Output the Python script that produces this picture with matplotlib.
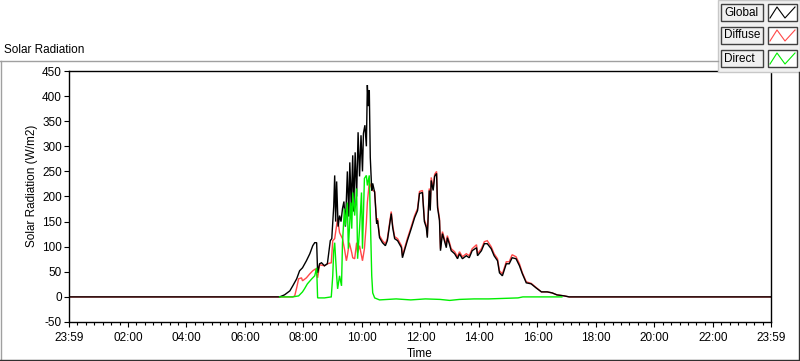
import matplotlib
matplotlib.use("Agg")
import matplotlib.pyplot as plt
import numpy as np
from matplotlib.patches import Rectangle
from matplotlib.lines import Line2D

plt.rcParams['font.family'] = ['Liberation Sans', 'DejaVu Sans']
plt.rcParams['font.size'] = 8.5
plt.rcParams['axes.unicode_minus'] = False

# Data (time of day, W/m2)
global_t = ["00:00", "07:11", "07:21", "07:32", "07:38", "07:46", "07:52", "07:58", "08:06", "08:13",
            "08:19", "08:23", "08:27", "08:29", "08:33", "08:37", "08:43", "08:49", "08:55", "08:58",
            "09:02", "09:04", "09:06", "09:08", "09:11", "09:14", "09:17", "09:20", "09:23", "09:26",
            "09:30", "09:33", "09:35", "09:38", "09:41", "09:43", "09:46", "09:49", "09:52", "09:55",
            "09:58", "10:01", "10:03", "10:06", "10:09", "10:11", "10:13", "10:15", "10:17", "10:20",
            "10:22", "10:26", "10:30", "10:32", "10:36", "10:42", "10:48", "10:52", "11:00", "11:03",
            "11:07", "11:13", "11:21", "11:23", "11:27", "11:33", "11:41", "11:48", "11:54", "11:58",
            "12:04", "12:08", "12:12", "12:14", "12:18", "12:20", "12:22", "12:26", "12:29", "12:33",
            "12:35", "12:39", "12:41", "12:45", "12:49", "12:53", "12:55", "12:59", "13:03", "13:10",
            "13:16", "13:20", "13:26", "13:34", "13:40", "13:46", "13:55", "13:57", "14:05", "14:11",
            "14:17", "14:25", "14:31", "14:38", "14:42", "14:48", "14:56", "15:02", "15:08", "15:16",
            "15:23", "15:29", "15:37", "15:47", "15:57", "16:08", "16:20", "16:30", "16:40", "16:55",
            "17:05", "23:59"]
global_v = [0, 0, 4, 12, 22, 36, 52, 58, 72, 86,
            102, 108, 108, 48, 66, 68, 62, 66, 112, 116,
            180, 242, 150, 230, 140, 162, 150, 176, 190, 140,
            250, 160, 268, 180, 282, 170, 288, 200, 328, 240,
            322, 250, 326, 342, 300, 422, 380, 412, 278, 212,
            226, 208, 146, 152, 118, 108, 102, 112, 166, 138,
            116, 112, 98, 78, 92, 112, 136, 158, 172, 206,
            208, 150, 138, 118, 212, 172, 232, 212, 240, 246,
            178, 152, 92, 126, 112, 98, 118, 106, 92, 86,
            76, 86, 76, 82, 78, 92, 98, 82, 92, 106,
            106, 96, 82, 72, 48, 42, 66, 66, 78, 76,
            62, 46, 28, 26, 18, 10, 10, 8, 4, 2,
            0, 0]

diffuse_t = ["00:00", "07:38", "07:42", "07:46", "07:50", "07:56", "07:58", "08:06", "08:13", "08:19",
             "08:25", "08:27", "08:29", "08:33", "08:43", "08:49", "08:57", "09:00", "09:04", "09:10",
             "09:14", "09:20", "09:24", "09:28", "09:30", "09:34", "09:39", "09:41", "09:45", "09:49",
             "09:51", "09:55", "09:59", "10:01", "10:05", "10:09", "10:11", "10:15", "10:20", "10:22",
             "10:26", "10:30", "10:32", "10:36", "10:42", "10:48", "10:52", "11:00", "11:03", "11:07",
             "11:13", "11:21", "11:23", "11:27", "11:33", "11:41", "11:48", "11:54", "11:58", "12:04",
             "12:08", "12:12", "12:14", "12:18", "12:20", "12:22", "12:26", "12:29", "12:33", "12:35",
             "12:39", "12:41", "12:45", "12:49", "12:53", "12:55", "12:59", "13:03", "13:10", "13:16",
             "13:20", "13:26", "13:34", "13:40", "13:46", "13:55", "13:57", "14:05", "14:11", "14:17",
             "14:25", "14:31", "14:38", "14:42", "14:48", "14:56", "15:02", "15:08", "15:16", "15:23",
             "15:29", "15:37", "15:47", "15:57", "16:08", "16:20", "16:30", "16:40", "16:55", "17:05",
             "23:59"]
diffuse_v = [0, 0, 2, 18, 36, 38, 32, 38, 46, 52,
             56, 46, 38, 64, 62, 66, 68, 112, 116, 156,
             128, 116, 96, 72, 82, 108, 88, 78, 76, 108,
             88, 102, 82, 72, 96, 148, 188, 228, 216, 212,
             210, 150, 156, 122, 112, 106, 116, 170, 142, 120,
             116, 102, 82, 96, 116, 140, 162, 176, 210, 212,
             154, 142, 122, 216, 176, 238, 216, 244, 250, 182,
             156, 96, 130, 116, 102, 122, 110, 96, 90, 80,
             90, 80, 86, 82, 96, 104, 86, 96, 110, 112,
             100, 86, 76, 52, 46, 70, 70, 84, 80, 66,
             48, 30, 27, 19, 10, 10, 8, 4, 2, 0,
             0]

# direct only visible between sunrise and sunset (zero line elsewhere is the black one)
direct_t = ["07:11", "07:38", "07:50", "07:58", "08:02", "08:08", "08:17", "08:23", "08:27", "08:29",
            "08:33", "08:43", "08:57", "09:00", "09:02", "09:04", "09:08", "09:10", "09:14", "09:18",
            "09:20", "09:24", "09:26", "09:30", "09:32", "09:37", "09:39", "09:41", "09:45", "09:49",
            "09:51", "09:55", "09:59", "10:01", "10:05", "10:09", "10:11", "10:15", "10:20", "10:22",
            "10:26", "10:36", "11:10", "11:40", "12:10", "12:40", "13:00", "13:20", "13:50", "14:20",
            "14:50", "15:20", "15:30", "16:00", "16:50"]
direct_v = [0, 0, 2, 10, 16, 26, 36, 42, 58, -2,
            -2, -2, 0, 42, 92, 108, 42, 16, 42, 22,
            108, 176, 142, 188, 96, 188, 136, 208, 162, 216,
            76, 136, 208, 96, 236, 242, 222, 242, 42, 8,
            -2, -6, -4, -6, -4, -5, -7, -5, -4, -4,
            -3, -2, 0, 0, 0]

series_names = ["Global", "Diffuse", "Direct"]
series_colors = ["#000000", "#ff4848", "#00ee00"]

tick_pos = ["-00:01", "02:00", "04:00", "06:00", "08:00", "10:00", "12:00",
            "14:00", "16:00", "18:00", "20:00", "22:00", "23:59"]
tick_labels = ["23:59", "02:00", "04:00", "06:00", "08:00", "10:00", "12:00",
               "14:00", "16:00", "18:00", "20:00", "22:00", "23:59"]


def to_min(s):
    sign = -1 if s.startswith("-") else 1
    h, m = s.lstrip("-").split(":")
    return sign * (int(h) * 60 + int(m))


W, H = 800, 361
fig = plt.figure(figsize=(W / 100, H / 100), dpi=100)
fig.patch.set_facecolor("white")


def fx(x):
    return x / W


def fy(y):
    return 1 - y / H


# panel frame (LabVIEW style)
fig.add_artist(Line2D([fx(0), fx(718)], [fy(61), fy(61)], color="#a0a0a0", lw=1))
fig.add_artist(Line2D([fx(1), fx(1)], [fy(61), fy(360)], color="#a0a0a0", lw=1))
fig.add_artist(Line2D([fx(0), fx(800)], [fy(360), fy(360)], color="#303030", lw=1))
fig.add_artist(Line2D([fx(799), fx(799)], [fy(72), fy(360)], color="#303030", lw=1))

ax = fig.add_axes([fx(69), fy(322), fx(771) - fx(69), fy(71) - fy(322)])

xs = [[to_min(t) for t in global_t], [to_min(t) for t in diffuse_t], [to_min(t) for t in direct_t]]
ys = [global_v, diffuse_v, direct_v]
# diffuse under global, direct on top
for i in [1, 0, 2]:
    ax.plot(xs[i], ys[i], color=series_colors[i], lw=1.0, solid_joinstyle="miter")

major = [to_min(t) for t in tick_pos]
ax.set_xlim(major[0], major[-1])
ax.set_ylim(-50, 450)
ax.set_yticks(np.arange(-50, 451, 50))
ax.set_xticks(major)
ax.set_xticklabels(tick_labels)
minor = []
for a, b in zip(major[:-1], major[1:]):
    minor.extend(np.linspace(a, b, 8)[1:-1])
ax.set_xticks(minor, minor=True)
ax.tick_params(axis="both", which="major", length=3.6, width=0.8, direction="out", labelsize=8.5)
ax.tick_params(axis="x", which="major", pad=3.5)
ax.tick_params(axis="y", which="major", pad=1.5)
ax.tick_params(axis="x", which="minor", length=2.2, width=0.8, direction="out")
for s in ax.spines.values():
    s.set_linewidth(1.0)
    s.set_color("black")

fig.text(fx(4), fy(50), "Solar Radiation", ha="left", va="center", fontsize=8.5)
fig.text(fx(32), fy(186), "Solar Radiation (W/m2)", rotation=90, ha="center", va="center", fontsize=8.5)
fig.text(fx(420), fy(354), "Time", ha="center", va="center", fontsize=8.5)

# legend block
fig.add_artist(Rectangle((fx(718), fy(72)), fx(82), fy(0) - fy(72), facecolor="#f0f0f0",
                         edgecolor="#c8c8c8", lw=1))
row_tops = [4, 27, 50]
for name, col, top in zip(series_names, series_colors, row_tops):
    fig.add_artist(Rectangle((fx(721), fy(top + 17)), fx(42), fy(top) - fy(top + 17),
                             facecolor="#f0f0f0", edgecolor="#404040", lw=1))
    fig.text(fx(724), fy(top + 8.5), name, ha="left", va="center", fontsize=8.5)
    fig.add_artist(Rectangle((fx(768), fy(top + 17)), fx(29), fy(top) - fy(top + 17),
                             facecolor="white", edgecolor="#404040", lw=1))
    zx = [fx(770), fx(777), fx(785), fx(795)]
    zy = [fy(top + 14), fy(top + 3), fy(top + 14), fy(top + 3)]
    fig.add_artist(Line2D(zx, zy, color=col, lw=0.8))

fig.savefig("out.png", dpi=100)
